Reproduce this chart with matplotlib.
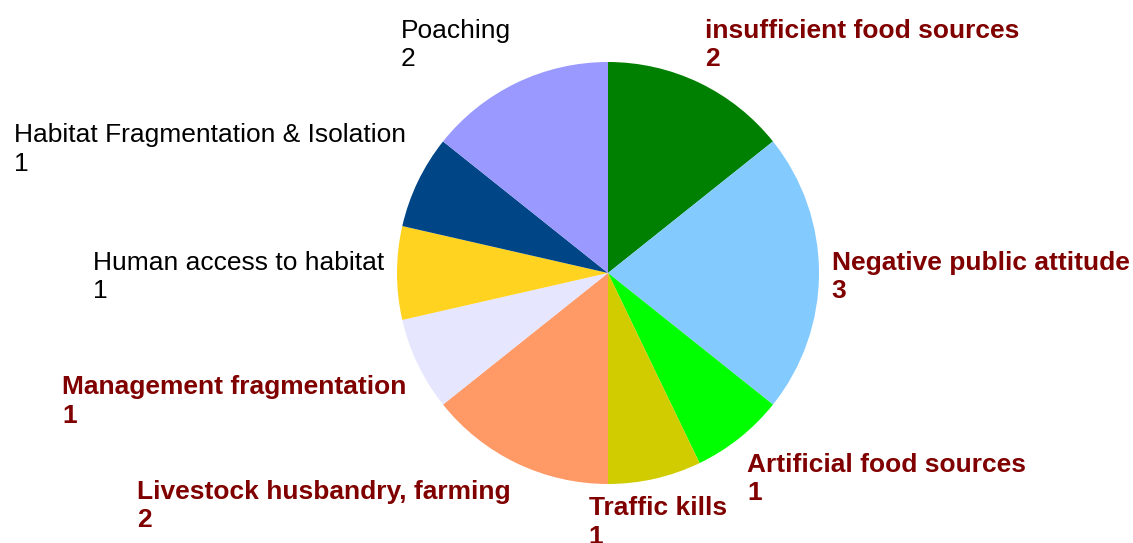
import numpy as np
import matplotlib
matplotlib.use("Agg")
import matplotlib.pyplot as plt

# slices, clockwise from 12 o'clock
labels = ["insufficient food sources", "Negative public attitude", "Artificial food sources",
          "Traffic kills", "Livestock husbandry, farming", "Management fragmentation",
          "Human access to habitat", "Habitat Fragmentation & Isolation", "Poaching"]
values = [2, 3, 1, 1, 2, 1, 1, 1, 2]
colors = ["#008000", "#83CAFF", "#00FF00", "#D0CC00", "#FF9966",
          "#E6E6FF", "#FFD320", "#004586", "#9999FF"]
highlight = [True, True, True, True, True, True, False, False, False]

plt.rcParams['font.family'] = ['Liberation Sans', 'DejaVu Sans']

fig = plt.figure(figsize=(11.33, 5.43), dpi=100)
ax = fig.add_axes([0, 0, 1, 1])

cx, cy, r = 608, 270, 211
wedges, _ = ax.pie(values, colors=colors, startangle=90, counterclock=False,
                   center=(cx, cy), radius=r, frame=True,
                   wedgeprops=dict(linewidth=0))
ax.set_xlim(0, 1133)
ax.set_ylim(0, 543)
ax.axis("off")

for w, name, v, hl in zip(wedges, labels, values, highlight):
    ang = np.deg2rad((w.theta1 + w.theta2) / 2)
    c, s = np.cos(ang), np.sin(ang)
    x = cx + 1.06 * r * c
    y = cy + 1.06 * r * s
    if abs(c) < 0.3:
        ha = "center"
    elif c > 0:
        ha = "left"
    else:
        ha = "right"
    # small nudges so the text sits like the original layout
    if abs(s) < 0.3:
        va = "center"
        y -= 4
    elif s > 0:
        va = "bottom"
    else:
        va = "top"
        y -= 5
    ax.text(x, y, f"{name}\n{v}", ha=ha, va=va, multialignment="left",
            fontsize=19, linespacing=1.24,
            color="#800000" if hl else "black",
            fontweight="bold" if hl else "normal")

fig.savefig("out.png", dpi=100)
